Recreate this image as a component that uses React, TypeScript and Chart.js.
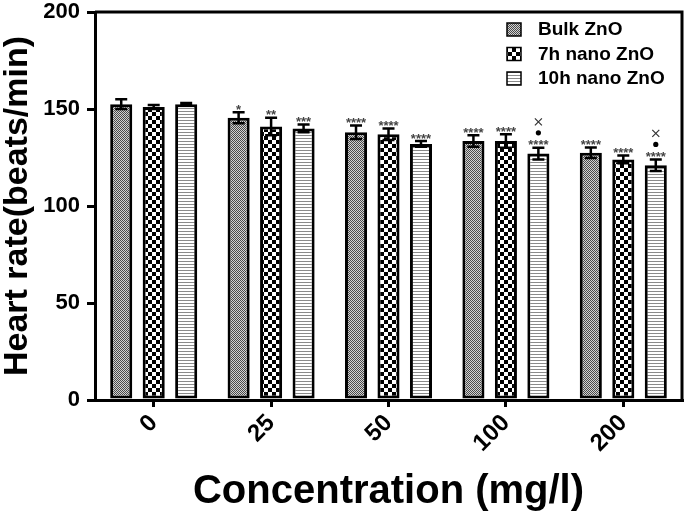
import React, { useEffect, useRef } from 'react';
import { Chart, registerables } from 'chart.js';

Chart.register(...registerables);

const categories = ['0', '25', '50', '100', '200'];
const seriesNames = ['Bulk ZnO', '7h nano ZnO', '10h nano ZnO'];
const bulkMeans = [152.5, 145.5, 138, 133.5, 127.5];
const bulkErr = [2.5, 2.8, 3.5, 3, 2.7];
const nano7Means = [151, 141, 137, 133.5, 124];
const nano7Err = [1, 4.5, 3, 3.5, 2];
const nano10Means = [152.5, 140, 132, 127, 121];
const nano10Err = [0.6, 2, 1.5, 3, 3];
const bulkSig = ['', '*', '****', '****', '****'];
const nano7Sig = ['', '**', '****', '****', '****'];
const nano10Sig = ['', '***', '****', '****', '****'];
const nano10Extra = ['', '', '', '•×', '•×'];
const yTicks = [0, 50, 100, 150, 200];

const FONT = "'Liberation Sans', Arial, sans-serif";

function makePattern(kind: string): CanvasPattern | string {
  const c = document.createElement('canvas');
  const ctx = c.getContext('2d');
  if (!ctx) return '#888';
  if (kind === 'dither') {
    c.width = 2; c.height = 2;
    ctx.fillStyle = '#d2d2d2'; ctx.fillRect(0, 0, 2, 2);
    ctx.fillStyle = '#4a4a4a'; ctx.fillRect(0, 0, 1, 1); ctx.fillRect(1, 1, 1, 1);
  } else if (kind === 'checker') {
    c.width = 8; c.height = 8;
    ctx.fillStyle = '#ffffff'; ctx.fillRect(0, 0, 8, 8);
    ctx.fillStyle = '#000000'; ctx.fillRect(0, 0, 4, 4); ctx.fillRect(4, 4, 4, 4);
  } else {
    c.width = 3; c.height = 3;
    ctx.fillStyle = '#ffffff'; ctx.fillRect(0, 0, 3, 3);
    ctx.fillStyle = '#8a8a8a'; ctx.fillRect(0, 0, 3, 1);
  }
  const p = ctx.createPattern(c, 'repeat');
  return p || '#888';
}

export default function App() {
  const ref = useRef<HTMLCanvasElement | null>(null);
  useEffect(() => {
    document.body.style.margin = '0';
    const canvas = ref.current;
    if (!canvas) return;
    const patterns = [makePattern('dither'), makePattern('checker'), makePattern('lines')];
    const errs = [bulkErr, nano7Err, nano10Err];
    const sigs = [bulkSig, nano7Sig, nano10Sig];

    const overlay = {
      id: 'overlay',
      afterDatasetsDraw(chart: any) {
        const ctx = chart.ctx;
        const ys = chart.scales.y;
        const area = chart.chartArea;
        ctx.save();
        chart.data.datasets.forEach((ds: any, di: number) => {
          const meta = chart.getDatasetMeta(di);
          meta.data.forEach((bar: any, i: number) => {
            const v = ds.data[i];
            const e = errs[di][i];
            const x = bar.x;
            const yt = ys.getPixelForValue(v + e);
            const yb = ys.getPixelForValue(v - e);
            ctx.strokeStyle = '#000';
            ctx.lineWidth = 2.5;
            ctx.beginPath();
            ctx.moveTo(x, yt); ctx.lineTo(x, yb);
            ctx.moveTo(x - 6, yt); ctx.lineTo(x + 6, yt);
            ctx.moveTo(x - 6, yb); ctx.lineTo(x + 6, yb);
            ctx.stroke();
            const s = sigs[di][i];
            ctx.fillStyle = '#444';
            ctx.textAlign = 'center';
            ctx.textBaseline = 'middle';
            if (s) {
              ctx.font = `bold 13px ${FONT}`;
              ctx.fillText(s, x, yt - 2);
            }
            if (di === 2 && nano10Extra[i]) {
              ctx.fillStyle = '#000';
              ctx.beginPath();
              ctx.arc(x, yt - 15, 2.6, 0, Math.PI * 2);
              ctx.fill();
              ctx.strokeStyle = '#333';
              ctx.lineWidth = 1.2;
              ctx.beginPath();
              ctx.moveTo(x - 3.5, yt - 29.5); ctx.lineTo(x + 3.5, yt - 22.5);
              ctx.moveTo(x + 3.5, yt - 29.5); ctx.lineTo(x - 3.5, yt - 22.5);
              ctx.stroke();
            }
          });
        });
        ctx.strokeStyle = '#000';
        ctx.lineWidth = 3;
        ctx.beginPath();
        ctx.moveTo(area.left, area.top);
        ctx.lineTo(area.right, area.top);
        ctx.lineTo(area.right, area.bottom);
        ctx.stroke();
        const lx = 507, ly0 = 23, step = 24.5;
        seriesNames.forEach((name, k) => {
          const y = ly0 + k * step;
          ctx.fillStyle = patterns[k] as any;
          ctx.fillRect(lx, y, 14, 13);
          ctx.strokeStyle = '#000';
          ctx.lineWidth = 1.5;
          ctx.strokeRect(lx, y, 14, 13);
          ctx.fillStyle = '#000';
          ctx.font = `bold 19px ${FONT}`;
          ctx.textAlign = 'left';
          ctx.textBaseline = 'middle';
          ctx.fillText(name, lx + 31, y + 7);
        });
        ctx.restore();
      },
    };

    const chart = new Chart(canvas, {
      type: 'bar',
      data: {
        labels: categories,
        datasets: [bulkMeans, nano7Means, nano10Means].map((d, k) => ({
          label: seriesNames[k],
          data: d,
          backgroundColor: patterns[k] as any,
          borderColor: '#000',
          borderWidth: 3,
          borderSkipped: false,
          categoryPercentage: 0.83,
          barPercentage: 0.68,
        })),
      },
      options: {
        responsive: false,
        animation: false,
        layout: { padding: { left: 0, top: 12, right: 3, bottom: 0 } },
        plugins: { legend: { display: false }, tooltip: { enabled: false } },
        scales: {
          x: {
            offset: true,
            grid: { display: true, drawOnChartArea: false, offset: false, color: '#000', lineWidth: 3, tickLength: 7 },
            border: { display: true, color: '#000', width: 3 },
            ticks: { color: '#000', font: { family: FONT, size: 24, weight: 'bold' }, minRotation: 45, maxRotation: 45, padding: 2 },
            title: { display: true, text: 'Concentration (mg/l)', color: '#000', font: { family: FONT, size: 40, weight: 'bold', lineHeight: 1 }, padding: { top: 0, bottom: 6 } },
            afterFit: (s: any) => { s.height = 118; s.paddingLeft = 0; s.paddingRight = 0; },
          },
          y: {
            min: 0,
            max: 200,
            afterBuildTicks: (s: any) => { s.ticks = yTicks.map((v) => ({ value: v })); },
            grid: { display: true, drawOnChartArea: false, color: '#000', lineWidth: 3, tickLength: 8 },
            border: { display: true, color: '#000', width: 3 },
            ticks: { color: '#000', font: { family: FONT, size: 22, weight: 'bold' }, padding: 7 },
            title: { display: true, text: 'Heart rate(beats/min)', color: '#000', font: { family: FONT, size: 34, weight: 'bold', lineHeight: 1 }, padding: { top: 1, bottom: 0 } },
            afterFit: (s: any) => { s.width = 95; s.paddingTop = 0; s.paddingBottom = 0; },
          },
        },
      },
      plugins: [overlay],
    } as any);
    return () => chart.destroy();
  }, []);
  return <canvas ref={ref} width={685} height={518} style={{ display: 'block' }} />;
}
